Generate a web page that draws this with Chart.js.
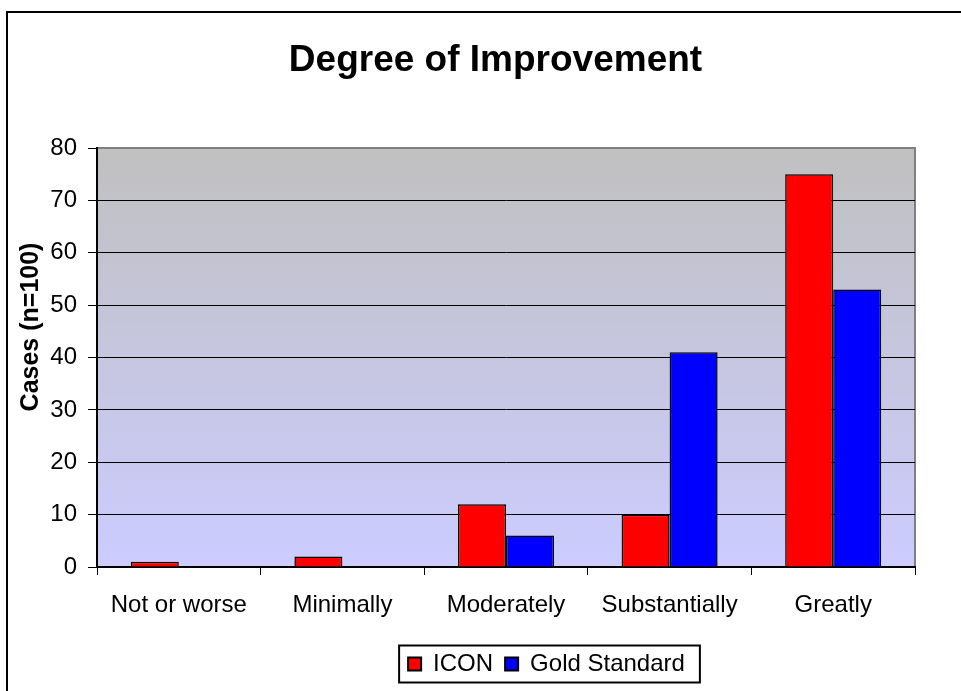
<!DOCTYPE html>
<html lang="en">
<head>
  <meta charset="UTF-8" />
  <title>Degree of Improvement</title>
  <script src="https://cdn.jsdelivr.net/npm/chart.js"></script>
  <style>
    html, body { margin: 0; padding: 0; background: #fff; overflow: hidden; }
    #wrap { position: relative; width: 961px; height: 691px; }
    #frame { position: absolute; left: 6px; top: 11px; width: 1000px; height: 800px; border: 2px solid #000; }
    canvas { position: absolute; left: 0; top: 0; }
  </style>
</head>
<body>
  <div id="wrap">
    <div id="frame"></div>
    <canvas id="chart" width="961" height="691"></canvas>
  </div>

  <script>
    const categories = ["Not or worse", "Minimally", "Moderately", "Substantially", "Greatly"];
    const iconCases = [1, 2, 12, 10, 75];
    const goldCases = [0, 0, 6, 41, 53];
    const yTicks = [0, 10, 20, 30, 40, 50, 60, 70, 80];

    Chart.defaults.color = "#000";
    Chart.defaults.font.family = "Arial, 'Liberation Sans', sans-serif";

    // gradient plot background + grey top/right edge
    const plotBg = {
      id: "plotBg",
      beforeDraw(chart) {
        const { ctx, chartArea: a } = chart;
        const g = ctx.createLinearGradient(0, a.top, 0, a.bottom);
        g.addColorStop(0, "#c0c0c0");
        g.addColorStop(1, "#ccccff");
        ctx.save();
        ctx.fillStyle = g;
        ctx.fillRect(a.left, a.top, a.right - a.left, a.bottom - a.top);
        ctx.strokeStyle = "#808080";
        ctx.lineWidth = 2;
        ctx.beginPath();
        ctx.moveTo(a.left, a.top);
        ctx.lineTo(a.right, a.top);
        ctx.lineTo(a.right, a.bottom);
        ctx.stroke();
        ctx.restore();
      }
    };

    // move title/legend sideways like the original, box round the legend, y title
    const extras = {
      id: "extras",
      afterLayout(chart) {
        chart.titleBlock.left += 38;
        chart.titleBlock.right += 38;
        chart.legend.left += 89;
        chart.legend.right += 89;
      },
      afterDraw(chart) {
        const { ctx } = chart;
        const boxes = chart.legend.legendHitBoxes;
        if (boxes && boxes.length) {
          const first = boxes[0], last = boxes[boxes.length - 1];
          const cy = first.top + first.height / 2;
          ctx.save();
          ctx.strokeStyle = "#000";
          ctx.lineWidth = 2;
          ctx.strokeRect(first.left - 9, cy - 18.5, last.left + last.width + 15 - (first.left - 9), 37);
          ctx.restore();
        }
        ctx.save();
        ctx.translate(31, 327);
        ctx.rotate(-Math.PI / 2);
        ctx.font = "bold 25px Arial, 'Liberation Sans', sans-serif";
        ctx.fillStyle = "#000";
        ctx.textAlign = "center";
        ctx.textBaseline = "middle";
        ctx.fillText("Cases (n=100)", 0, 0);
        ctx.restore();
      }
    };

    new Chart(document.getElementById("chart"), {
      type: "bar",
      data: {
        labels: categories,
        datasets: [
          { label: "ICON", data: iconCases, backgroundColor: "#ff0000", borderColor: "#000", borderWidth: 1.5 },
          { label: "Gold Standard", data: goldCases, backgroundColor: "#0000ff", borderColor: "#000", borderWidth: 1.5 }
        ]
      },
      options: {
        responsive: false,
        animation: false,
        categoryPercentage: 0.587,
        barPercentage: 1,
        layout: { padding: { top: 0, left: 0, right: 46, bottom: 5 } },
        scales: {
          x: {
            grid: { offset: true, drawOnChartArea: false, color: "#000", tickLength: 8 },
            border: { color: "#000", width: 2 },
            ticks: { font: { size: 24 }, padding: 16, maxRotation: 0 },
            afterFit(s) { s.height = 73; }
          },
          y: {
            min: 0,
            max: 80,
            afterBuildTicks(s) { s.ticks = yTicks.map(v => ({ value: v })); },
            grid: {
              color: c => (c.tick && c.tick.value === 80 ? "#808080" : "#000"),
              tickColor: "#000",
              tickLength: 9,
              lineWidth: 1
            },
            border: { color: "#000", width: 2 },
            ticks: { font: { size: 24 }, padding: 11 },
            afterFit(s) { s.width = 97; }
          }
        },
        plugins: {
          title: {
            display: true,
            text: "Degree of Improvement",
            font: { size: 37, weight: "bold" },
            padding: { top: 39, bottom: 64.6 }
          },
          legend: {
            position: "bottom",
            labels: {
              font: { size: 24 },
              boxWidth: 13,
              boxHeight: 13,
              padding: 12,
              generateLabels(chart) {
                const items = Chart.defaults.plugins.legend.labels.generateLabels(chart);
                items.forEach(it => { it.lineWidth = 2; it.strokeStyle = "#000"; });
                return items;
              }
            }
          },
          tooltip: { enabled: false }
        }
      },
      plugins: [plotBg, extras]
    });
  </script>
</body>
</html>
